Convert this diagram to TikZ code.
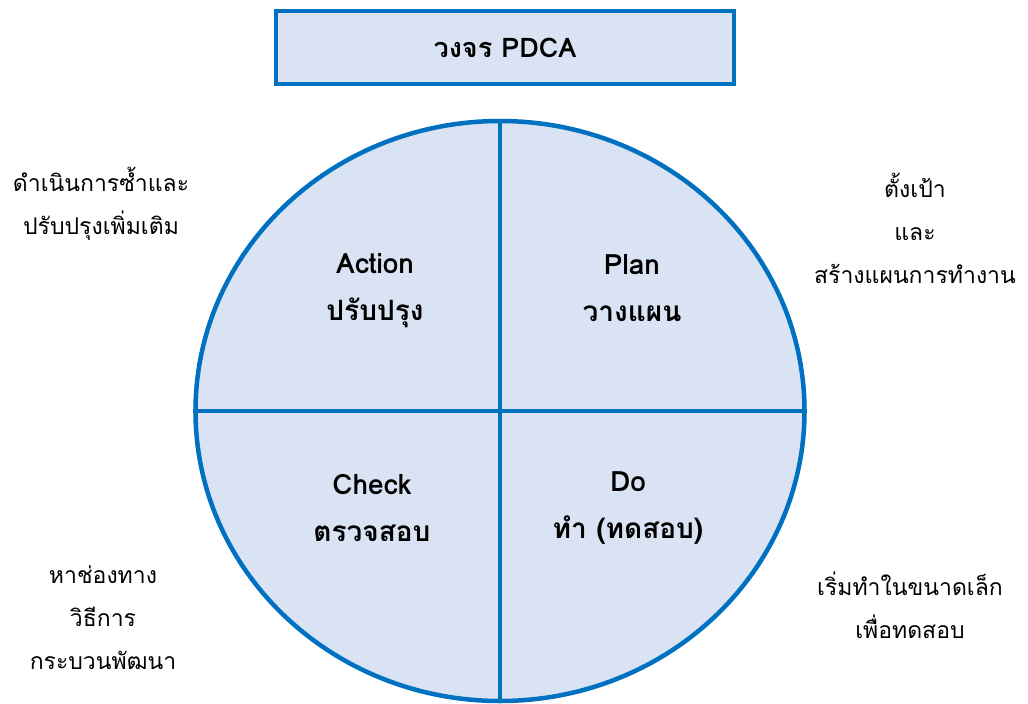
\documentclass[tikz,border=0pt]{standalone}
\usepackage{fontspec}
\setmainfont[Script=Thai]{Loma}
\usepackage{tikz}
\usetikzlibrary{shapes.geometric}
\definecolor{pdcablue}{HTML}{0070C0}
\definecolor{pdcafill}{HTML}{DAE3F3}
\tikzset{
  phase/.style={align=center, font=\fontsize{28}{47}\selectfont\bfseries},
  note/.style={align=center, font=\fontsize{23}{43}\selectfont},
}

\begin{document}
\begin{tikzpicture}[x=1pt, y=-1pt]
		%%%%% START %%%%%
		\useasboundingbox (0, 0) rectangle (1028, 704);
		
		% title box
		\node[draw=pdcablue, line width=4.5pt, fill=pdcafill, minimum width=458pt, minimum height=73pt, font=\fontsize{27}{30}\selectfont\bfseries] (title) at (505, 47.5) {วงจร PDCA};
		
		% the cycle
		\node[ellipse, draw=pdcablue, line width=4.5pt, fill=pdcafill, minimum width=609pt, minimum height=580pt, inner sep=0pt] (cycle) at (500, 411) {};
		\draw[pdcablue, line width=4.5pt] (cycle.north) -- (cycle.south);
		\draw[pdcablue, line width=4.5pt] (cycle.west) -- (cycle.east);
		
		\node[phase] (act) at (375, 291) {Action\\ปรับปรุง};
		\node[phase] (plan) at (632, 288) {Plan\\วางแผน};
		\node[phase] (check) at (372, 508) {Check\\ตรวจสอบ};
		\node[phase] (do) at (628, 508) {Do\\ทำ (ทดสอบ)};
		
		% notes round it
		\node[note] (actnote) at (101, 204) {ดำเนินการซ้ำและ\\ปรับปรุงเพิ่มเติม};
		\node[note] (plannote) at (915, 228) {ตั้งเป้า\\และ\\สร้างแผนการทำงาน};
		\node[note] (checknote) at (103, 618) {หาช่องทาง\\วิธีการ\\กระบวนพัฒนา};
		\node[note] (donote) at (910, 605) {เริ่มทำในขนาดเล็ก\\เพื่อทดสอบ};
		
		%%%%% END %%%%%
	\end{tikzpicture}
\end{document}
